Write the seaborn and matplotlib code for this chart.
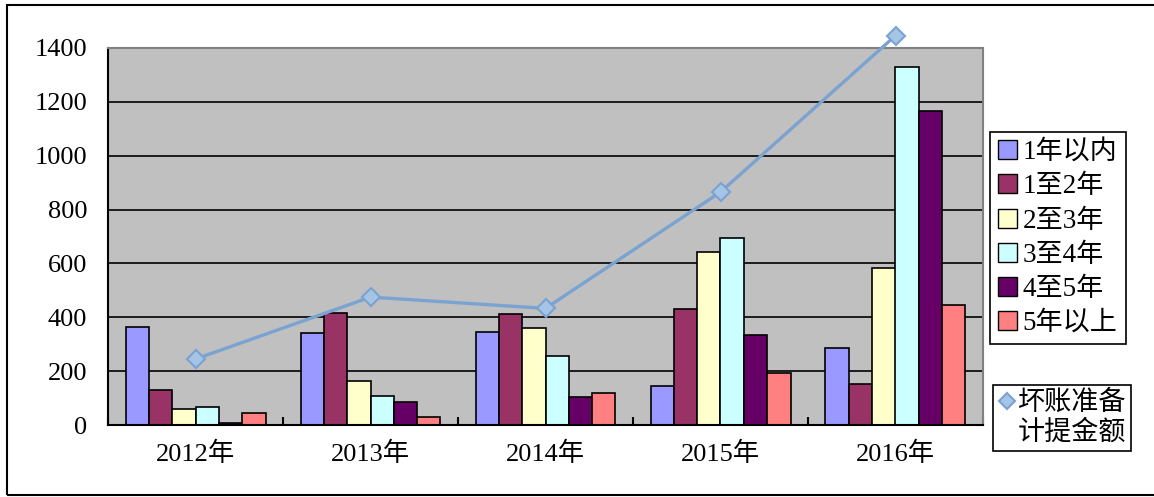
import numpy as np
import pandas as pd
import matplotlib
matplotlib.use("Agg")
import matplotlib.pyplot as plt
from matplotlib.patches import Rectangle
from matplotlib.lines import Line2D
import seaborn as sns

## Datos

years = ["2012年", "2013年", "2014年", "2015年", "2016年"]
buckets = ["1年以内", "1至2年", "2至3年", "3至4年", "4至5年", "5年以上"]

within_1 = [365, 340, 345, 144, 287]
y1_to_2 = [130, 417, 411, 432, 151]
y2_to_3 = [58, 163, 359, 641, 582]
y3_to_4 = [66, 109, 256, 693, 1329]
y4_to_5 = [8, 84, 104, 333, 1167]
over_5 = [46, 31, 119, 192, 446]

allowance = [245, 475, 433, 865, 1446]   # 坏账准备计提金额

colors = ["#9999FF", "#993366", "#FFFFCC", "#CCFFFF", "#660066", "#FF8080"]

df = pd.DataFrame({"年份": years, buckets[0]: within_1, buckets[1]: y1_to_2,
                   buckets[2]: y2_to_3, buckets[3]: y3_to_4,
                   buckets[4]: y4_to_5, buckets[5]: over_5})
df_long = df.melt(id_vars="年份", var_name="账龄", value_name="金额")

## Fuentes

plt.rcParams["font.family"] = ["Liberation Serif", "Noto Sans CJK SC"]
plt.rcParams["font.size"] = 19

## Gráfico

fig = plt.figure(figsize=(11.54, 4.97), dpi=100)
ax = fig.add_axes([108 / 1154, 72 / 497, 875 / 1154, 377 / 497])
ax.set_facecolor("#C0C0C0")

sns.barplot(data=df_long, x="年份", y="金额", hue="账龄", hue_order=buckets,
            palette=colors, saturation=1, edgecolor="black", linewidth=1.2,
            width=0.8, legend=False, ax=ax)

sns.pointplot(x=years, y=allowance, color="#7BA3D1", markers="D",
              markersize=9, linewidth=2.4, errorbar=None, ax=ax)
for ln in ax.lines:
    ln.set_clip_on(False)
    ln.set_markerfacecolor("#A6C4E6")
    ln.set_markeredgecolor("#7BA3D1")
    ln.set_markeredgewidth(1.5)
    ln.set_zorder(5)
if ax.get_legend() is not None:
    ax.get_legend().remove()

ax.set_xlim(-0.5, 4.5)
ax.set_ylim(0, 1400)
ax.set_yticks(np.arange(0, 1401, 200))
ax.set_xlabel("")
ax.set_ylabel("")
ax.grid(axis="y", color="black", linewidth=1.2)
ax.grid(axis="x", visible=False)
ax.set_axisbelow(True)

ax.tick_params(axis="y", length=0, pad=15)
ax.tick_params(axis="x", which="major", length=0, pad=12)
ax.set_xticks(np.arange(-0.5, 4.6, 1), minor=True)
ax.tick_params(axis="x", which="minor", direction="in", length=6, width=1.5, color="black")

for side in ["left", "bottom"]:
    ax.spines[side].set_color("black")
    ax.spines[side].set_linewidth(1.5)
for side in ["top", "right"]:
    ax.spines[side].set_color("#808080")
    ax.spines[side].set_linewidth(1.5)

# Leyendas
bar_handles = [Rectangle((0, 0), 1, 1, facecolor=c, edgecolor="black", linewidth=1) for c in colors]
leg1 = fig.legend(bar_handles, buckets, loc="upper left",
                  bbox_to_anchor=(990 / 1154, 1 - 132 / 497), borderaxespad=0,
                  fancybox=False, edgecolor="black", framealpha=1,
                  handlelength=0.7, handleheight=0.7, handletextpad=0.2,
                  labelspacing=0.34, borderpad=0.3, fontsize=19.5)
leg1.get_frame().set_linewidth(1.2)

line_handle = Line2D([], [], linestyle="none", marker="D", markersize=8,
                     markerfacecolor="#A6C4E6", markeredgecolor="#7BA3D1", markeredgewidth=1.5)
leg2 = fig.legend([line_handle], ["坏账准备\n计提金额"], loc="upper left",
                  bbox_to_anchor=(993 / 1154, 1 - 385 / 497), borderaxespad=0,
                  fancybox=False, edgecolor="black", framealpha=1,
                  handlelength=0.6, handletextpad=0.1, borderpad=0.2, fontsize=19.5)
leg2.get_frame().set_linewidth(1.2)
# el rombo va a la altura de la primera línea
mk = leg2.legend_handles[0]
mk.set_ydata(np.asarray(mk.get_ydata()) + 0.62 * 19.5)

# Marco exterior
fig.patches.append(Rectangle((7 / 1154, 2 / 497), 1.0, 1 - 7 / 497, transform=fig.transFigure,
                             fill=False, edgecolor="black", linewidth=1.5))

fig.savefig("out.png", dpi=100)
